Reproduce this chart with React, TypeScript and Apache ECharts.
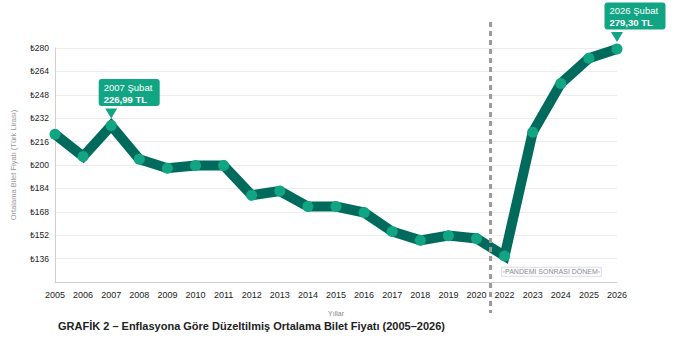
import React, { useEffect, useRef } from "react";
import * as echarts from "echarts";

const years = ["2005","2006","2007","2008","2009","2010","2011","2012","2013","2014","2015","2016","2017","2018","2019","2020","2022","2023","2024","2025","2026"];
const prices = [221, 205.8, 226.99, 203.9, 197.8, 199.6, 199.7, 179.3, 182.2, 171.6, 171.6, 167.5, 154.5, 148.5, 151.7, 149.8, 137.8, 222.4, 255.7, 273, 279.3];
const yTicks = { min: 120, max: 280, interval: 16 };
const callouts = [
  { index: 2, title: "2007 Şubat", value: "226,99 TL" },
  { index: 20, title: "2026 Şubat", value: "279,30 TL" },
];
const periodLabel = "◦PANDEMİ SONRASI DÖNEM◦";
const splitBetween = [15, 16];

const FONT = "'Liberation Sans', Arial, sans-serif";
const TEAL = "#12a584";
const DARK = "#006b5d";

export default function App() {
  const ref = useRef<HTMLDivElement>(null);
  useEffect(() => {
    document.body.style.margin = "0";
    const chart = echarts.init(ref.current!, null, { renderer: "svg" });
    const data = prices.map((v, i) => {
      const c = callouts.find((k) => k.index === i);
      if (!c) return v;
      return {
        value: v,
        label: {
          show: true,
          position: "top",
          distance: 14,
          offset: [18, 0],
          backgroundColor: TEAL,
          borderRadius: 3,
          padding: [2, 5, 1, 5],
          align: "center",
          formatter: `{a|${c.title}}\n{b|${c.value}}`,
          rich: {
            a: { color: "#fff", fontSize: 9.5, fontFamily: FONT, lineHeight: 12, width: 51, align: "left" },
            b: { color: "#fff", fontSize: 9.5, fontWeight: "bold", fontFamily: FONT, lineHeight: 12, width: 51, align: "left" },
          },
        },
      };
    });
    chart.setOption({
      animation: false,
      textStyle: { fontFamily: FONT },
      grid: { left: 55, right: 58, top: 48, bottom: 60, containLabel: false },
      xAxis: {
        type: "category",
        data: years,
        boundaryGap: false,
        name: "Yıllar",
        nameLocation: "middle",
        nameGap: 28,
        nameTextStyle: { fontSize: 7, color: "#888", fontFamily: FONT },
        axisLine: { lineStyle: { color: "#d0d0d0", width: 1 } },
        axisTick: { show: false },
        axisLabel: { fontSize: 9, color: "#222", margin: 8, interval: 0, fontFamily: FONT },
        splitLine: { show: false },
      },
      yAxis: {
        type: "value",
        min: yTicks.min,
        max: yTicks.max,
        interval: yTicks.interval,
        name: "Ortalama Bilet Fiyatı (Türk Lirası)",
        nameLocation: "middle",
        nameRotate: 90,
        nameGap: 38,
        nameTextStyle: { fontSize: 7.5, color: "#999", fontFamily: FONT },
        axisLine: { show: true, lineStyle: { color: "#d0d0d0", width: 1 } },
        axisTick: { show: false },
        axisLabel: {
          fontSize: 8.5,
          color: "#222",
          margin: 6,
          fontFamily: FONT,
          showMinLabel: false,
          formatter: (v: number) => "₺" + v,
        },
        splitLine: { show: true, lineStyle: { color: "#ececec", width: 1 } },
      },
      series: [
        {
          type: "line",
          data,
          symbol: "circle",
          symbolSize: 11,
          lineStyle: { width: 10, color: DARK, join: "miter", cap: "butt" },
          itemStyle: { color: TEAL, borderWidth: 0 },
          z: 3,
          markPoint: {
            silent: true,
            data: callouts.map((c) => ({
              coord: [c.index, prices[c.index]],
              symbol: "triangle",
              symbolRotate: 180,
              symbolSize: [12, 10],
              symbolOffset: [0, -12],
              itemStyle: { color: TEAL },
              label: { show: false },
            })),
          },
        },
      ],
    });

    const x0 = chart.convertToPixel({ xAxisIndex: 0 }, splitBetween[0]) as number;
    const x1 = chart.convertToPixel({ xAxisIndex: 0 }, splitBetween[1]) as number;
    const xm = (x0 + x1) / 2;
    const yLabel = chart.convertToPixel({ yAxisIndex: 0 }, 127) as number;
    chart.setOption({
      graphic: [
        {
          type: "line",
          shape: { x1: xm, y1: 22, x2: xm, y2: 313 },
          style: { stroke: "#9a9a9a", lineWidth: 3, lineDash: [5, 4] },
          z: 10,
        },
        {
          type: "text",
          x: xm + 11,
          y: yLabel,
          style: {
            text: periodLabel,
            fontSize: 7,
            fill: "#8a8a8a",
            fontFamily: FONT,
            verticalAlign: "middle",
            borderColor: "#d6dcea",
            borderWidth: 1,
            padding: [1, 1],
          },
          z: 10,
        },
        {
          type: "text",
          left: 58,
          top: 320,
          style: {
            text: "GRAFİK 2 – Enflasyona Göre Düzeltilmiş Ortalama Bilet Fiyatı (2005–2026)",
            fontSize: 11,
            fontWeight: "bold",
            fill: "#222",
            fontFamily: FONT,
          },
        },
      ],
    });
    return () => chart.dispose();
  }, []);
  return <div ref={ref} style={{ width: 675, height: 342, position: "fixed", left: 0, top: 0, background: "#fff" }} />;
}
